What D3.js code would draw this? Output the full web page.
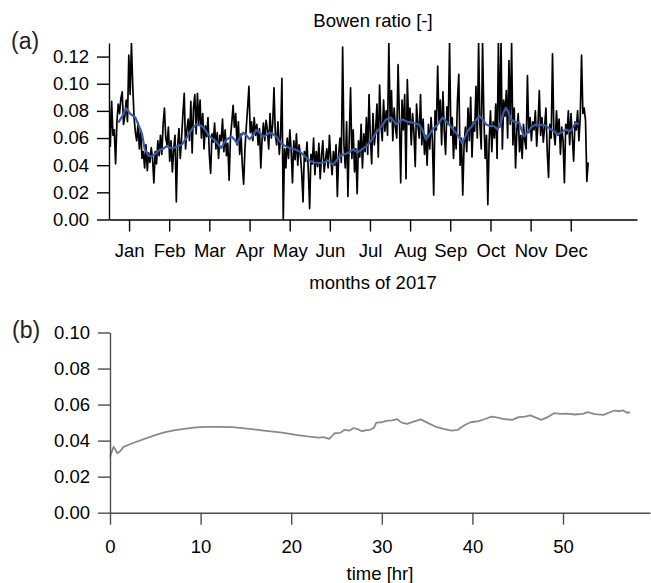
<!DOCTYPE html>
<html>
<head>
<meta charset="utf-8">
<script src="https://cdn.jsdelivr.net/npm/d3@7"></script>
<style>
  html, body { margin: 0; padding: 0; background: #fff; }
  svg { display: block; font-family: "Liberation Sans", Arial, Helvetica, sans-serif; }
</style>
</head>
<body>
<svg id="chart" width="651" height="583"></svg>
<script>
// ---------------- DATA ----------------
const titleA = "Bowen ratio [-]";
const xLabelA = "months of 2017";
const xLabelB = "time [hr]";
const monthLabels = ["Jan","Feb","Mar","Apr","May","Jun","Jul","Aug","Sep","Oct","Nov","Dec"];
const monthTickDays = [15.2, 45.6, 76.0, 106.5, 136.9, 167.3, 197.7, 228.1, 258.5, 289.0, 319.4, 349.8];
const yTicksA = [0, 0.02, 0.04, 0.06, 0.08, 0.10, 0.12];
const yTicksB = [0, 0.02, 0.04, 0.06, 0.08, 0.10];
const xTicksB = [0, 10, 20, 30, 40, 50];

// daily Bowen ratio, 2017 (day index 0 = 1 Jan)
const dailyBowen = [
  0.088,0.054,0.087,0.062,0.066,0.041,0.072,0.085,0.078,0.089,
  0.094,0.070,0.076,0.088,0.072,0.121,0.092,0.130,0.098,0.075,
  0.064,0.058,0.071,0.052,0.066,0.045,0.050,0.038,0.055,0.036,
  0.049,0.042,0.053,0.045,0.027,0.050,0.041,0.058,0.047,0.062,
  0.048,0.070,0.082,0.060,0.055,0.068,0.043,0.058,0.035,0.052,
  0.062,0.013,0.055,0.067,0.045,0.060,0.078,0.093,0.052,0.066,
  0.074,0.058,0.087,0.049,0.082,0.092,0.063,0.093,0.070,0.088,
  0.060,0.078,0.052,0.069,0.061,0.075,0.048,0.034,0.063,0.057,
  0.071,0.052,0.064,0.045,0.062,0.058,0.074,0.050,0.066,0.047,
  0.056,0.029,0.060,0.071,0.084,0.068,0.078,0.055,0.072,0.048,
  0.063,0.040,0.026,0.052,0.068,0.082,0.098,0.064,0.072,0.058,
  0.075,0.062,0.070,0.055,0.067,0.038,0.060,0.071,0.058,0.073,
  0.066,0.052,0.078,0.060,0.070,0.097,0.063,0.055,0.072,0.048,
  0.062,0.104,0.000,0.052,0.038,0.060,0.045,0.066,0.051,0.027,
  0.058,0.044,0.063,0.040,0.055,0.048,0.034,0.013,0.050,0.043,
  0.057,0.036,0.008,0.048,0.041,0.060,0.033,0.050,0.039,0.056,
  0.030,0.047,0.058,0.035,0.044,0.052,0.038,0.062,0.045,0.033,
  0.050,0.040,0.055,0.017,0.048,0.060,0.042,0.127,0.055,0.038,
  0.072,0.017,0.060,0.097,0.045,0.066,0.035,0.052,0.019,0.058,
  0.046,0.070,0.038,0.063,0.050,0.075,0.048,0.092,0.060,0.041,
  0.078,0.055,0.066,0.085,0.046,0.099,0.070,0.058,0.088,0.065,
  0.080,0.062,0.130,0.072,0.095,0.058,0.082,0.068,0.060,0.114,
  0.075,0.027,0.088,0.066,0.092,0.030,0.103,0.070,0.082,0.055,
  0.078,0.064,0.039,0.085,0.070,0.060,0.092,0.055,0.074,0.048,
  0.062,0.040,0.070,0.052,0.075,0.058,0.018,0.080,0.066,0.113,
  0.072,0.088,0.055,0.094,0.065,0.048,0.083,0.070,0.130,0.062,
  0.075,0.045,0.068,0.052,0.088,0.107,0.040,0.060,0.018,0.055,
  0.068,0.050,0.082,0.058,0.090,0.046,0.072,0.065,0.098,0.060,
  0.130,0.070,0.052,0.130,0.075,0.045,0.062,0.011,0.058,0.080,
  0.050,0.072,0.060,0.085,0.045,0.130,0.068,0.130,0.052,0.088,
  0.076,0.095,0.060,0.117,0.070,0.130,0.055,0.082,0.038,0.066,
  0.078,0.050,0.062,0.045,0.070,0.058,0.052,0.106,0.064,0.075,
  0.058,0.072,0.066,0.080,0.054,0.070,0.095,0.062,0.075,0.057,
  0.068,0.082,0.050,0.031,0.070,0.060,0.122,0.064,0.055,0.080,
  0.062,0.074,0.048,0.068,0.058,0.027,0.070,0.063,0.080,0.055,
  0.078,0.061,0.043,0.072,0.066,0.080,0.058,0.075,0.121,0.078,
  0.082,0.073,0.028,0.042
];

// smoothed (running mean) curve
const smoothDay = [7,10,13,16,20,23,25,27,30,32,35,38.5,41,43.6,46,48.6,52,55,58,61,64,66,68,70,73,75,78,81,83,85,87,89,91,93,95,97,99,101.6,104,106.6,109,111.7,114,116.7,119,121.7,124,126.8,129,131.8,134,136.8,140,144.4,148,150,153,156,159.5,163,165.8,169.6,172,174.7,178,181,184.7,188.5,192,195,197,200,202,206,210,213.7,217.5,220,222.6,226,230,235,238,240,242.5,245,249,252.8,257.8,262.9,265,267.4,269.5,271.7,275,278,280.5,283,285.6,288,291.8,294.3,297,299,300.7,302.5,304.5,307,310.7,312.5,314.5,317,320,323.4,326,328.5,331,334,337,339.7,342.5,346,349,351,353.6,356];
const smoothBowen = [0.0713,0.076,0.082,0.078,0.075,0.068,0.063,0.052,0.047,0.0465,0.048,0.0515,0.052,0.054,0.053,0.0527,0.054,0.055,0.059,0.0638,0.068,0.070,0.0695,0.069,0.066,0.0626,0.060,0.0576,0.055,0.0527,0.056,0.0589,0.060,0.061,0.059,0.056,0.060,0.064,0.062,0.059,0.062,0.066,0.064,0.061,0.062,0.064,0.063,0.061,0.058,0.055,0.054,0.0527,0.052,0.050,0.047,0.045,0.0428,0.042,0.0416,0.042,0.0433,0.0404,0.043,0.0465,0.048,0.049,0.0515,0.0495,0.052,0.054,0.056,0.060,0.0638,0.068,0.0737,0.075,0.070,0.072,0.0737,0.072,0.0713,0.070,0.065,0.0589,0.062,0.0663,0.070,0.075,0.070,0.0638,0.061,0.0564,0.060,0.065,0.069,0.073,0.0761,0.074,0.070,0.069,0.0687,0.0663,0.072,0.079,0.0824,0.079,0.0737,0.072,0.0713,0.066,0.0613,0.064,0.068,0.070,0.069,0.070,0.069,0.067,0.065,0.0626,0.064,0.0663,0.065,0.067,0.0713,0.070];

// panel (b): Bowen ratio vs time
const timeHr = [0,0.2,0.4,0.6,0.8,1.1,1.5,2.2,3,3.8,5,6.1,7.2,8.4,9.5,10.7,12,13.5,15.4,17,19,20.5,21.8,23,23.6,24.2,24.6,24.8,25.4,25.9,26.4,26.9,27.4,27.8,28.3,28.7,29.1,29.4,30,30.5,31.1,31.7,32.2,32.8,33.5,34.3,35,35.9,36.8,37.7,38.4,39.1,39.8,40.7,41.4,42.1,42.8,43.4,44.4,45.1,45.8,46.4,47,47.6,48.3,49,49.7,50.4,51.3,52.2,52.7,53.5,54.5,55.1,55.7,56.2,56.6,57,57.4];
const timeBowen = [0.031,0.034,0.0365,0.035,0.033,0.034,0.0365,0.038,0.0395,0.041,0.043,0.0447,0.0458,0.0467,0.0473,0.0476,0.0476,0.0475,0.0465,0.0455,0.0444,0.0432,0.0423,0.0417,0.0419,0.041,0.043,0.0441,0.0443,0.046,0.0455,0.047,0.0462,0.0452,0.0458,0.046,0.047,0.050,0.0502,0.051,0.0512,0.0519,0.050,0.0493,0.0505,0.0518,0.050,0.0478,0.0465,0.0456,0.046,0.0485,0.0502,0.0508,0.052,0.0533,0.0527,0.052,0.0515,0.053,0.0533,0.054,0.0528,0.0515,0.053,0.0552,0.0548,0.055,0.0545,0.0548,0.0558,0.0547,0.0543,0.0556,0.0567,0.0563,0.0568,0.0556,0.0556];

// ---------------- DRAW ----------------
const svg = d3.select("#chart");
const FS = 18.5;

// Panel (a)
const xA = d3.scaleLinear().domain([0, 400]).range([109, 637]);
const yA = d3.scaleLinear().domain([0, 0.13]).range([219.5, 43]);

svg.append("defs").append("clipPath").attr("id", "clipA")
  .append("rect").attr("x", xA(0)).attr("y", yA(0.13)).attr("width", xA(400) - xA(0)).attr("height", yA(0) - yA(0.13));

const gA = svg.append("g");
gA.append("path")
  .datum(dailyBowen)
  .attr("clip-path", "url(#clipA)")
  .attr("fill", "none").attr("stroke", "#000").attr("stroke-width", 1.7).attr("stroke-linejoin", "round")
  .attr("d", d3.line().x((d, i) => xA(i)).y(d => yA(d)));

gA.append("path")
  .datum(smoothDay.map((d, i) => [d, smoothBowen[i]]))
  .attr("fill", "none").attr("stroke", "#3a5aa8").attr("stroke-width", 2.2).attr("stroke-linejoin", "round")
  .attr("d", d3.line().x(d => xA(d[0])).y(d => yA(d[1])));

const axA_y = svg.append("g").attr("transform", `translate(${xA(0)},0)`)
  .call(d3.axisLeft(yA).tickValues(yTicksA).tickFormat(d3.format(".2f")).tickSize(12).tickPadding(8).tickSizeOuter(0));
const axA_x = svg.append("g").attr("transform", `translate(0,${yA(0)})`)
  .call(d3.axisBottom(xA).tickValues(monthTickDays).tickFormat((d, i) => monthLabels[i]).tickSize(12).tickPadding(12).tickSizeOuter(0));
[axA_y, axA_x].forEach(g => {
  g.attr("font-size", FS).attr("font-family", null);
  g.selectAll("path,line").attr("stroke", "#000").attr("stroke-width", 1.4);
  g.selectAll("text").attr("fill", "#000");
});

svg.append("text").attr("x", 373).attr("y", 27).attr("text-anchor", "middle").attr("font-size", FS).text(titleA);
svg.append("text").attr("x", 373).attr("y", 289).attr("text-anchor", "middle").attr("font-size", FS).text(xLabelA);
svg.append("text").attr("x", 11).attr("y", 49).attr("font-size", 23).attr("fill", "#222").text("(a)");

// Panel (b)
const xB = d3.scaleLinear().domain([0, 59.6]).range([110, 650]);
const yB = d3.scaleLinear().domain([0, 0.10]).range([512.7, 332.5]);

svg.append("path")
  .datum(timeHr.map((d, i) => [d, timeBowen[i]]))
  .attr("fill", "none").attr("stroke", "#8a8a8a").attr("stroke-width", 1.8).attr("stroke-linejoin", "round")
  .attr("d", d3.line().x(d => xB(d[0])).y(d => yB(d[1])));

const axB_y = svg.append("g").attr("transform", `translate(${xB(0)},0)`)
  .call(d3.axisLeft(yB).tickValues(yTicksB).tickFormat(d3.format(".2f")).tickSize(12).tickPadding(8).tickSizeOuter(0));
const axB_x = svg.append("g").attr("transform", `translate(0,${yB(0)})`)
  .call(d3.axisBottom(xB).tickValues(xTicksB).tickFormat(d3.format("d")).tickSize(12).tickPadding(15).tickSizeOuter(0));
[axB_y, axB_x].forEach(g => {
  g.attr("font-size", FS).attr("font-family", null);
  g.selectAll("path,line").attr("stroke", "#4d4d4d").attr("stroke-width", 1.4);
  g.selectAll("text").attr("fill", "#000");
});

svg.append("text").attr("x", 380).attr("y", 580).attr("text-anchor", "middle").attr("font-size", FS).text(xLabelB);
svg.append("text").attr("x", 12).attr("y", 337.5).attr("font-size", 23).attr("fill", "#222").text("(b)");
</script>
</body>
</html>
